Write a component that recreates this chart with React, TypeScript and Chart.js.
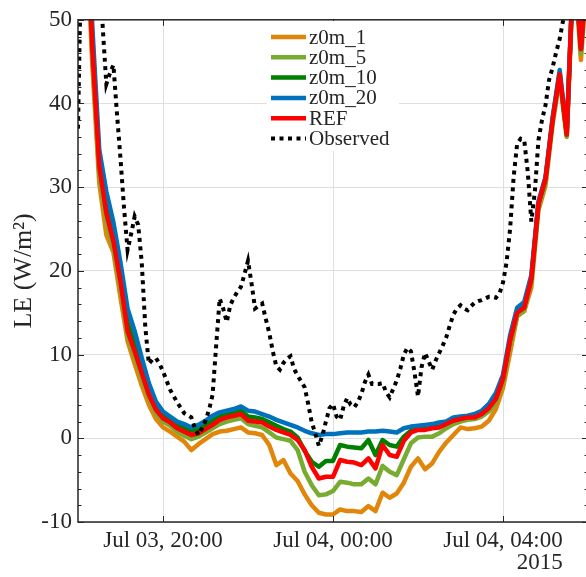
import React, { useEffect, useRef } from "react";
import { Chart, registerables } from "chart.js";

Chart.register(...registerables);

// ---------- data ----------
const modelTimes: string[] = [
  "18:00", "18:10", "18:20", "18:30", "18:40", "18:50",
  "19:00", "19:10", "19:20", "19:30", "19:40", "19:50",
  "20:00", "20:10", "20:20", "20:30", "20:40", "20:50",
  "21:00", "21:10", "21:20", "21:30", "21:40", "21:50",
  "22:00", "22:10", "22:20", "22:30", "22:40", "22:50",
  "23:00", "23:10", "23:20", "23:30", "23:40", "23:50",
  "00:00", "00:10", "00:20", "00:30", "00:40", "00:50",
  "01:00", "01:10", "01:20", "01:30", "01:40", "01:50",
  "02:00", "02:10", "02:20", "02:30", "02:40", "02:50",
  "03:00", "03:10", "03:20", "03:30", "03:40", "03:50",
  "04:00", "04:10", "04:20", "04:30", "04:40", "04:50",
  "05:00", "05:10", "05:20", "05:30", "05:40", "05:50",
  "06:00",
];

const z0m1LE: number[] = [
  90, 64, 45, 30.5, 24.3, 22.2, 16.8, 11.6, 8.9, 6.3,
  4.0, 2.3, 1.3, 0.8, 0.2, -0.4, -1.4, -0.7, -0.1, 0.5,
  0.8, 0.9, 1.1, 1.3, 0.7, 0.6, 0.4, -0.8, -3.2, -2.6,
  -4.2, -5.1, -6.7, -8.0, -8.9, -9.1, -9.1, -8.5, -8.7, -8.7,
  -8.8, -8.1, -8.7, -6.5, -7.1, -6.6, -5.3, -3.4, -2.4, -3.7,
  -3.0, -1.6, -0.5, 0.4, 1.3, 1.1, 1.2, 1.4, 2.1, 3.5,
  6.0, 10.2, 14.6, 15.2, 18.0, 27.2, 30.2, 37.5, 43.0, 36.0,
  57, 45.2, 57,
];

const z0m5LE: number[] = [
  93, 66, 46, 31.5, 26, 22.6, 17.8, 12.2, 9.8, 7.2,
  4.8, 3.0, 2.0, 1.5, 0.8, 0.3, -0.1, 0.2, 0.7, 1.2,
  1.7, 2.0, 2.2, 2.4, 1.7, 1.5, 1.3, 0.7, 0.1, -0.1,
  -0.3, -1.4, -4.0, -5.6, -6.8, -6.7, -6.3, -5.2, -5.3, -5.5,
  -5.5, -4.8, -5.5, -3.3, -4.0, -4.4, -2.5, -0.6, 0.1, 0.2,
  0.2, 0.6, 1.2, 1.7, 2.0, 2.2, 2.3, 2.6, 3.2, 4.3,
  6.6, 11.2, 14.6, 15.3, 18.6, 27.6, 30.6, 37.8, 43.2, 36.1,
  58, 46, 58,
];

const z0m10LE: number[] = [
  96, 69, 48, 33.3, 27.8, 24.3, 19.5, 13.8, 11.2, 8.5,
  5.8, 3.8, 2.7, 2.2, 1.6, 1.2, 0.9, 1.1, 1.6, 2.1,
  2.6, 2.9, 3.1, 3.3, 2.6, 2.5, 2.3, 1.9, 1.5, 1.1,
  0.8, 0.1, -1.5, -2.8, -3.4, -2.7, -2.7, -0.8, -1.0, -1.1,
  -1.2, -0.2, -2.0, -0.2, -0.8, -1.0, 0.2, 0.9, 1.1, 1.1,
  1.3, 1.4, 1.8, 2.2, 2.4, 2.6, 2.6, 3.0, 3.7, 4.8,
  7.2, 11.8, 15.1, 15.8, 19.1, 28, 31, 38.1, 43.6, 36.3,
  58, 46.5, 58,
];

const z0m20LE: number[] = [
  100, 70, 49.5, 34.5, 29.5, 25.8, 21, 15.5, 12.8, 9.6,
  6.6, 4.4, 3.2, 2.6, 2.0, 1.7, 1.3, 1.6, 2.1, 2.7,
  3.1, 3.3, 3.5, 3.8, 3.3, 3.2, 2.9, 2.6, 2.2, 1.9,
  1.6, 1.3, 0.9, 0.6, 0.4, 0.5, 0.5, 0.6, 0.7, 0.7,
  0.7, 0.8, 0.8, 0.9, 0.8, 0.7, 1.2, 1.4, 1.5, 1.6,
  1.7, 1.9, 2.0, 2.5, 2.6, 2.7, 2.9, 3.3, 4.1, 5.4,
  7.6, 12.3, 15.6, 16.3, 19.5, 28.3, 31.2, 38.3, 44, 36.6,
  58, 46.7, 58,
];

const refLE: number[] = [
  95, 68, 47, 32.5, 26.9, 23.5, 18.7, 12.8, 10.4, 7.8,
  5.2, 3.4, 2.4, 1.9, 1.2, 0.8, 0.4, 0.6, 1.1, 1.6,
  2.2, 2.5, 2.7, 2.9, 2.1, 2.0, 1.9, 1.4, 1.0, 0.7,
  0.4, -0.2, -1.4, -3.4, -4.8, -4.6, -4.6, -2.6, -2.8, -2.9,
  -3.2, -2.4, -3.6, -0.8, -2.0, -2.2, -0.3, 0.7, 1.0, 1.0,
  1.2, 1.3, 1.7, 2.1, 2.3, 2.5, 2.5, 2.9, 3.6, 4.7,
  7.1, 11.7, 15.0, 15.6, 19, 28, 31, 38, 43.5, 36.3,
  58, 46.5, 58,
];

const obsTimes: string[] = [
  "18:00", "18:05", "18:10", "18:15", "18:20", "18:25", "18:30", "18:35", "18:40", "18:45",
  "18:50", "18:55", "19:00", "19:05", "19:10", "19:15", "19:20", "19:25", "19:30", "19:35",
  "19:40", "19:45", "19:50", "19:55", "20:00", "20:10", "20:20", "20:30", "20:40", "20:45",
  "20:50", "20:55", "21:00", "21:05", "21:10", "21:15", "21:20", "21:25", "21:30", "21:35",
  "21:40", "21:45", "21:50", "21:55", "22:00", "22:05", "22:10", "22:15", "22:20", "22:25",
  "22:30", "22:35", "22:40", "22:45", "22:50", "22:55", "23:00", "23:05", "23:10", "23:15",
  "23:20", "23:25", "23:30", "23:35", "23:40", "23:45", "23:50", "23:55", "00:00", "00:05",
  "00:10", "00:15", "00:20", "00:25", "00:30", "00:35", "00:40", "00:45", "00:50", "00:55",
  "01:00", "01:05", "01:10", "01:15", "01:20", "01:25", "01:30", "01:35", "01:40", "01:45",
  "01:50", "01:55", "02:00", "02:05", "02:10", "02:15", "02:20", "02:25", "02:30", "02:35",
  "02:40", "02:45", "02:50", "02:55", "03:00", "03:05", "03:10", "03:15", "03:20", "03:25",
  "03:30", "03:35", "03:40", "03:45", "03:50", "03:55", "04:00", "04:05", "04:10", "04:15",
  "04:20", "04:25", "04:30", "04:35", "04:40", "04:45", "04:50", "04:55", "05:00", "05:05",
  "05:10", "05:15", "05:20", "05:25", "05:30", "05:35", "05:45", "06:00",
];

const obsLE: number[] = [
  37, 60, 66, 63, 61, 60, 57, 49, 42.3, 43.6,
  44.6, 38.8, 33.4, 27.5, 22.5, 24.4, 26.5, 25.5, 21.0, 13.3,
  8.9, 9.4, 9.6, 8.9, 8.0, 5.8, 4.3, 3.0, 2.5, 1.2,
  0.4, 1.2, 2.1, 3.4, 5.2, 11.0, 16.7, 15.5, 13.9, 15.9,
  16.8, 17.5, 18.1, 19.6, 21.2, 18.5, 15.5, 15.8, 16.1, 14.3,
  12.6, 10.4, 8.6, 8.2, 9.0, 9.5, 9.8, 8.3, 7.5, 6.8,
  6.1, 4.1, 1.9, 0.6, -0.9, 0.3, 2.0, 3.6, 4.1, 2.6,
  2.2, 3.8, 4.8, 4.0, 3.7, 4.3, 5.3, 6.7, 7.6, 6.5,
  6.5, 6.5, 6.6, 5.5, 4.9, 5.9, 6.9, 8.3, 10.0, 10.8,
  10.4, 7.9, 5.0, 8.5, 10.2, 9.2, 8.2, 9.3, 10.2, 11.1,
  12.1, 13.5, 14.8, 15.5, 15.9, 15.5, 15.3, 15.8, 16.2, 16.4,
  16.5, 16.7, 16.9, 16.9, 16.8, 17.3, 18.6, 21.0, 25.0, 31.2,
  35.2, 35.8, 35.6, 31.8, 25.9, 29.5, 35.6, 38.0, 39.8, 42.8,
  44.3, 46.1, 47.7, 50.0, 53.5, 56, 58, 60,
];

const X_MIN_HOUR = 18;
const X_MAX_HOUR = 30;
const X_TICK_VALUES = [20, 24, 28];
const X_TICK_LABELS = ["Jul 03, 20:00", "Jul 04, 00:00", "Jul 04, 04:00"];
const X_YEAR_LABEL = "2015";
const Y_MIN = -10;
const Y_MAX = 50;
const Y_STEP = 10;
const Y_MINOR_STEP = 2;
const Y_TITLE = "LE (W/m²)";

// ---------- styles ----------
const FONT = "'Liberation Serif', 'Times New Roman', serif";
const TEXT = "#262626";
const GRID = "#dfdfdf";

const toHours = (t: string) => {
  const [h, m] = t.split(":").map(Number);
  return (h < 12 ? h + 24 : h) + m / 60;
};

const modelSeries = [
  { label: "z0m_1", values: z0m1LE, color: "#e0870b", order: 5 },
  { label: "z0m_5", values: z0m5LE, color: "#77ac30", order: 4 },
  { label: "z0m_10", values: z0m10LE, color: "#008000", order: 3 },
  { label: "z0m_20", values: z0m20LE, color: "#0072bd", order: 2 },
  { label: "REF", values: refLE, color: "#ff0000", order: 1 },
];

const OBS_COLOR = "#000000";
const LINE_W = 4.5;
const OBS_W = 4;
const OBS_DASH = [4, 4.5];

const axesPlugin = {
  id: "matlabAxes",
  afterDatasetsDraw(chart: any) {
    const { ctx, chartArea, scales } = chart;
    const { left, right, top, bottom } = chartArea;
    const x = scales.x;
    const y = scales.y;
    ctx.save();
    ctx.strokeStyle = TEXT;
    ctx.lineWidth = 1;
    const seg = (x1: number, y1: number, x2: number, y2: number) => {
      ctx.beginPath();
      ctx.moveTo(x1, y1);
      ctx.lineTo(x2, y2);
      ctx.stroke();
    };
    // ticks
    for (let v = Y_MIN; v <= Y_MAX; v += Y_MINOR_STEP) {
      const py = Math.round(y.getPixelForValue(v)) + 0.5;
      const len = v % Y_STEP === 0 ? 6 : 3.5;
      seg(left, py, left + len, py);
      seg(right, py, right - len, py);
    }
    for (const v of X_TICK_VALUES) {
      const px = Math.round(x.getPixelForValue(v)) + 0.5;
      seg(px, bottom, px, bottom - 6);
      seg(px, top, px, top + 6);
    }
    // box
    ctx.lineWidth = 1.5;
    ctx.strokeRect(left, top, right - left, bottom - top);

    // legend
    const lx = 267, ly = 21, lw = 132, lh = 130;
    ctx.fillStyle = "#ffffff";
    ctx.fillRect(lx, ly, lw, lh);
    const items = [
      ...modelSeries.map((s) => ({ label: s.label, color: s.color, dotted: false })),
      { label: "Observed", color: OBS_COLOR, dotted: true },
    ];
    ctx.font = `21px ${FONT}`;
    ctx.textAlign = "left";
    ctx.textBaseline = "middle";
    items.forEach((it, i) => {
      const cy = 37 + i * 20.3;
      ctx.strokeStyle = it.color;
      ctx.lineWidth = it.dotted ? OBS_W : LINE_W;
      ctx.setLineDash(it.dotted ? OBS_DASH : []);
      ctx.lineCap = "butt";
      seg(271, cy, 306, cy);
      ctx.setLineDash([]);
      ctx.fillStyle = TEXT;
      ctx.fillText(it.label, 309, cy + 1);
    });

    // year label
    ctx.font = `23px ${FONT}`;
    const last = X_TICK_LABELS.length - 1;
    const w = ctx.measureText(X_TICK_LABELS[last]).width;
    const xr = x.getPixelForValue(X_TICK_VALUES[last]) + w / 2;
    ctx.textAlign = "right";
    ctx.textBaseline = "middle";
    ctx.fillStyle = TEXT;
    ctx.fillText(X_YEAR_LABEL, xr, 563);
    ctx.restore();
  },
};

export default function App() {
  const ref = useRef<HTMLCanvasElement | null>(null);

  useEffect(() => {
    const canvas = ref.current;
    if (!canvas) return;
    const datasets: any[] = [
      {
        label: "Observed",
        data: obsTimes.map((t, i) => ({ x: toHours(t), y: obsLE[i] })),
        borderColor: OBS_COLOR,
        borderWidth: OBS_W,
        borderDash: OBS_DASH,
        borderCapStyle: "butt",
        pointRadius: 0,
        tension: 0,
        clip: 0,
        order: 0,
      },
      ...modelSeries.map((s) => ({
        label: s.label,
        data: modelTimes.map((t, i) => ({ x: toHours(t), y: s.values[i] })),
        borderColor: s.color,
        borderWidth: LINE_W,
        borderJoinStyle: "round",
        pointRadius: 0,
        tension: 0,
        clip: 0,
        order: s.order,
      })),
    ];

    const chart = new Chart(canvas, {
      type: "line",
      data: { datasets },
      options: {
        animation: false,
        responsive: false,
        devicePixelRatio: 1,
        parsing: false,
        layout: { padding: { left: 0, top: 14, right: 12, bottom: 0 } },
        plugins: {
          legend: { display: false },
          tooltip: { enabled: false },
        },
        scales: {
          x: {
            type: "linear",
            min: X_MIN_HOUR,
            max: X_MAX_HOUR,
            afterBuildTicks: (s: any) => {
              s.ticks = X_TICK_VALUES.map((v) => ({ value: v }));
            },
            afterFit: (s: any) => {
              s.height = 55;
            },
            grid: { color: GRID, lineWidth: 1, drawTicks: false },
            border: { display: false },
            ticks: {
              font: { family: FONT, size: 23 },
              color: TEXT,
              padding: 5,
              maxRotation: 0,
              autoSkip: false,
              callback: (v: any) => {
                const idx = X_TICK_VALUES.indexOf(Number(v));
                return idx >= 0 ? X_TICK_LABELS[idx] : "";
              },
            },
          },
          y: {
            type: "linear",
            min: Y_MIN,
            max: Y_MAX,
            afterFit: (s: any) => {
              s.width = 78;
            },
            grid: { color: GRID, lineWidth: 1, drawTicks: false },
            border: { display: false },
            ticks: {
              stepSize: Y_STEP,
              font: { family: FONT, size: 23 },
              color: TEXT,
              padding: 6,
            },
            title: {
              display: true,
              text: Y_TITLE,
              font: { family: FONT, size: 26 },
              color: TEXT,
              padding: { top: 9, bottom: 0 },
            },
          },
        },
      },
      plugins: [axesPlugin],
    } as any);
    return () => chart.destroy();
  }, []);

  return (
    <div
      style={{
        position: "fixed",
        left: 0,
        top: 0,
        width: 586,
        height: 577,
        overflow: "hidden",
        background: "#ffffff",
      }}
    >
      <canvas ref={ref} width={600} height={577} style={{ display: "block", width: 600, height: 577 }} />
    </div>
  );
}
